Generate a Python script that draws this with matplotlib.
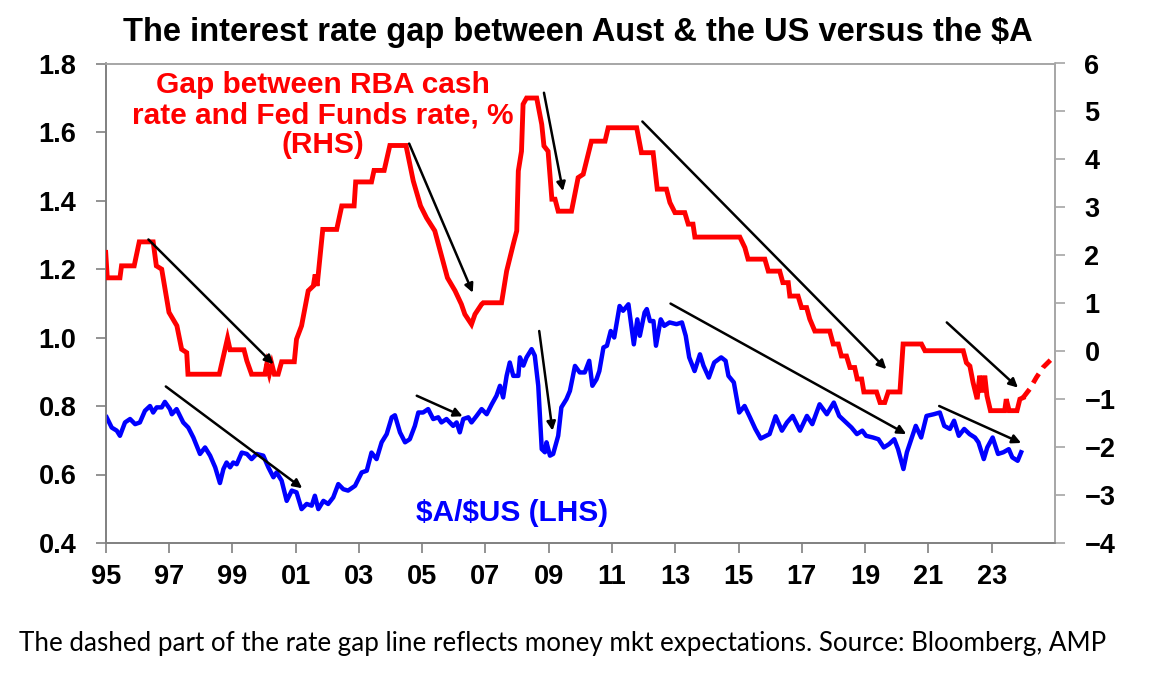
import matplotlib
matplotlib.use("Agg")
import matplotlib.pyplot as plt

# ---------------- data ----------------
aud_years = [1995.03,1995.19,1995.35,1995.45,1995.61,1995.77,1995.93,1996.08,1996.24,1996.4,1996.5,1996.61,1996.77,1996.87,
 1997.03,1997.09,1997.24,1997.45,1997.61,1997.77,1997.98,1998.14,1998.3,1998.46,1998.61,1998.72,1998.82,1998.93,
 1999.03,1999.14,1999.3,1999.46,1999.61,1999.77,1999.98,2000.14,2000.3,2000.4,2000.56,2000.72,2000.88,2001.03,
 2001.19,2001.35,2001.51,2001.61,2001.72,2001.88,2002.03,2002.19,2002.35,2002.51,2002.66,2002.88,2003.09,2003.25,
 2003.4,2003.56,2003.72,2003.88,2004.04,2004.14,2004.3,2004.46,2004.61,2004.77,2004.88,2005.03,2005.19,2005.35,
 2005.51,2005.61,2005.77,2005.98,2006.09,2006.19,2006.3,2006.46,2006.56,2006.72,2006.88,2007.04,2007.2,2007.35,
 2007.46,2007.56,2007.67,2007.77,2007.88,2008.04,2008.09,2008.2,2008.3,2008.46,2008.56,2008.67,2008.78,2008.88,
 2008.93,2009.04,2009.14,2009.3,2009.4,2009.56,2009.67,2009.83,2009.98,2010.14,2010.28,2010.38,2010.51,2010.6,
 2010.73,2010.84,2010.96,2011.07,2011.24,2011.35,2011.52,2011.69,2011.8,2011.88,2012.03,2012.1,2012.2,2012.31,
 2012.39,2012.54,2012.65,2012.82,2013.04,2013.21,2013.33,2013.44,2013.61,2013.78,2013.89,2014.06,2014.23,2014.45,
 2014.59,2014.68,2014.85,2015.02,2015.19,2015.36,2015.53,2015.7,2015.98,2016.17,2016.37,2016.53,2016.71,2016.94,
 2017.16,2017.33,2017.56,2017.79,2018.01,2018.18,2018.4,2018.57,2018.74,2018.91,2019.03,2019.25,2019.42,2019.59,
 2019.76,2019.92,2020.04,2020.21,2020.32,2020.6,2020.77,2020.94,2021.17,2021.36,2021.5,2021.68,2021.81,2021.96,
 2022.13,2022.3,2022.47,2022.58,2022.75,2022.86,2023.03,2023.2,2023.37,2023.54,2023.65,2023.82,2023.93]
aud_usd = [0.767,0.737,0.728,0.713,0.752,0.762,0.747,0.752,0.786,0.800,0.781,0.796,0.796,0.812,
 0.791,0.776,0.791,0.752,0.737,0.708,0.660,0.679,0.655,0.621,0.575,0.616,0.635,0.621,
 0.635,0.630,0.664,0.660,0.645,0.660,0.655,0.621,0.592,0.606,0.582,0.523,0.553,0.548,
 0.499,0.514,0.509,0.538,0.499,0.523,0.514,0.533,0.572,0.557,0.553,0.567,0.606,0.611,
 0.664,0.645,0.694,0.718,0.767,0.773,0.723,0.694,0.703,0.742,0.781,0.781,0.791,0.762,
 0.767,0.752,0.762,0.742,0.752,0.723,0.762,0.767,0.752,0.771,0.791,0.776,0.805,0.830,
 0.859,0.825,0.888,0.927,0.888,0.888,0.942,0.918,0.942,0.966,0.947,0.859,0.674,0.665,
 0.694,0.655,0.660,0.713,0.796,0.820,0.844,0.917,0.898,0.898,0.932,0.859,0.878,0.902,
 0.971,0.976,1.019,1.000,1.092,1.078,1.097,0.980,1.053,1.005,1.073,1.083,1.048,1.048,
 0.976,1.053,1.034,1.044,1.039,1.044,1.005,0.942,0.902,0.951,0.918,0.883,0.927,0.942,
 0.932,0.888,0.869,0.781,0.800,0.767,0.733,0.705,0.718,0.770,0.728,0.752,0.771,0.728,
 0.771,0.747,0.805,0.776,0.810,0.771,0.752,0.737,0.718,0.728,0.713,0.708,0.703,0.679,
 0.689,0.703,0.674,0.616,0.665,0.742,0.708,0.771,0.776,0.781,0.742,0.733,0.757,0.713,
 0.733,0.718,0.708,0.694,0.645,0.679,0.708,0.660,0.665,0.674,0.650,0.640,0.665]

gap_years = [1995.0,1995.05,1995.45,1995.5,1995.9,1996.06,1996.5,1996.6,1996.77,1997.0,1997.25,1997.4,1997.56,1997.6,
 1998.59,1998.85,1998.93,1999.37,1999.46,1999.61,2000.03,2000.09,2000.17,2000.25,2000.33,2000.45,2000.56,2000.96,
 2001.03,2001.19,2001.4,2001.56,2001.62,2001.68,2001.86,2002.3,2002.46,2002.85,2002.9,2003.4,2003.48,2003.8,
 2003.98,2004.49,2004.72,2004.95,2005.14,2005.4,2005.6,2005.8,2006.04,2006.24,2006.35,2006.56,2006.67,2006.88,
 2006.93,2007.51,2007.67,2007.88,2007.99,2008.04,2008.14,2008.19,2008.3,2008.62,2008.78,2008.85,2008.98,2009.1,
 2009.2,2009.3,2009.72,2009.93,2010.09,2010.35,2010.78,2010.88,2011.78,2011.93,2012.3,2012.43,2012.72,2012.83,
 2012.99,2013.3,2013.41,2013.56,2013.62,2015.04,2015.2,2015.3,2015.83,2015.94,2016.3,2016.4,2016.57,2016.62,
 2016.88,2016.99,2017.15,2017.25,2017.41,2017.88,2017.99,2018.15,2018.25,2018.41,2018.52,2018.67,2018.75,2018.89,
 2018.96,2019.36,2019.47,2019.62,2019.73,2020.1,2020.2,2020.78,2020.89,2022.1,2022.2,2022.31,2022.41,2022.54,
 2022.62,2022.71,2022.78,2022.85,2022.96,2023.41,2023.46,2023.55,2023.8,2023.89,2023.99]
rate_gap = [2.06,1.53,1.53,1.78,1.78,2.28,2.28,1.78,1.71,0.81,0.53,0.04,-0.03,-0.48,
 -0.48,0.27,0.03,0.03,-0.20,-0.48,-0.48,-0.27,-0.48,-0.27,-0.48,-0.48,-0.22,-0.22,
 0.25,0.53,1.26,1.36,1.60,1.36,2.54,2.54,3.03,3.03,3.53,3.53,3.77,3.77,
 4.29,4.29,3.55,3.03,2.78,2.51,2.02,1.53,1.26,0.98,0.77,0.56,0.77,0.98,
 1.01,1.01,1.67,2.23,2.51,3.76,4.17,5.15,5.28,5.28,4.73,4.28,4.17,3.17,
 3.17,2.92,2.92,3.62,3.69,4.38,4.38,4.66,4.66,4.14,4.14,3.38,3.38,3.10,
 2.89,2.89,2.65,2.65,2.38,2.38,2.16,1.92,1.92,1.67,1.67,1.43,1.43,1.15,
 1.15,0.91,0.91,0.67,0.42,0.42,0.15,0.15,-0.10,-0.10,-0.34,-0.34,-0.58,-0.58,
 -0.85,-0.85,-1.07,-1.07,-0.85,-0.85,0.15,0.15,0.01,0.01,-0.24,-0.31,-0.65,-1.00,
 -0.51,-0.86,-0.51,-0.93,-1.24,-1.24,-1.00,-1.24,-1.24,-1.00,-0.97]

exp_years = [2023.99, 2024.2, 2024.41, 2024.62, 2024.94]
exp_gap = [-0.97, -0.79, -0.55, -0.34, -0.13]

year_ticks = list(range(1995, 2024, 2))
year_labels = [f"{y % 100:02d}" for y in year_ticks]
left_ticks = [0.4, 0.6, 0.8, 1.0, 1.2, 1.4, 1.6, 1.8]
right_ticks = list(range(-4, 7))

# arrows: (x0, y0, x1, y1)
gap_arrows = [(1996.35, 2.33, 2000.3, -0.27), (2004.59, 4.33, 2006.6, 1.22),
              (2008.85, 5.39, 2009.45, 3.34), (2011.96, 4.79, 2019.67, -0.375),
              (2021.58, 0.60, 2023.83, -0.76)]
aud_arrows = [(1996.9, 0.857, 2001.21, 0.560), (2004.83, 0.830, 2006.28, 0.770),
              (2008.7, 1.019, 2009.12, 0.728), (2012.85, 1.099, 2020.3, 0.718),
              (2021.34, 0.800, 2023.93, 0.692)]

# ---------------- plot ----------------
plt.rcParams['font.family'] = ['Liberation Sans', 'DejaVu Sans']
fig = plt.figure(figsize=(11.56, 6.74), dpi=100)
ax = fig.add_axes([105.7/1156, 1-543/674, (1055-105.7)/1156, (543-63.5)/674])
ax2 = ax.twinx()

ax.plot(aud_years, aud_usd, color='#0000ff', lw=3.2, solid_joinstyle='round', zorder=3)
ax2.plot(gap_years, rate_gap, color='#ff0000', lw=3.5, solid_joinstyle='miter', zorder=3)
ax2.plot(exp_years, exp_gap, color='#ff0000', lw=3.5, ls=(0, (2.2, 1.5)), zorder=3)

ax.set_xlim(1995, 2025.0)
ax.set_ylim(0.4, 1.8)
ax2.set_ylim(-4, 6)
ax.set_yticks(left_ticks)
ax.set_yticklabels([f"{v:.1f}" for v in left_ticks])
ax2.set_yticks(right_ticks)
ax.set_xticks(year_ticks)
ax.set_xticklabels(year_labels)

dark = '#808080'
light = '#a6a6a6'
for a in (ax, ax2):
    for s in a.spines.values():
        s.set_linewidth(1.2)
    a.spines['left'].set_color(dark)
    a.spines['bottom'].set_color(dark)
    a.spines['top'].set_color(light)
    a.spines['right'].set_color(light)
    for lab in a.get_xticklabels() + a.get_yticklabels():
        lab.set_fontweight('bold')
ax.tick_params(axis='both', colors=dark, width=1.2, length=7.2, direction='out',
               labelcolor='black', labelsize=19.5)
ax.tick_params(axis='x', pad=8)
ax.tick_params(axis='y', pad=14)
ax2.tick_params(axis='y', colors=light, width=1.2, length=7.2, direction='out',
                labelcolor='black', labelsize=19.5, pad=14)

for (x0, y0, x1, y1) in gap_arrows:
    ax2.annotate('', xy=(x1, y1), xytext=(x0, y0),
                 arrowprops=dict(arrowstyle='-|>', color='black', lw=1.8,
                                 mutation_scale=13, shrinkA=0, shrinkB=0), zorder=4)
for (x0, y0, x1, y1) in aud_arrows:
    ax2.annotate('', xy=(x1, y1), xytext=(x0, y0), xycoords=ax.transData, textcoords=ax.transData,
                 arrowprops=dict(arrowstyle='-|>', color='black', lw=1.8,
                                 mutation_scale=13, shrinkA=0, shrinkB=0), zorder=4)

fig.text(578/1156, 1-33/674, r"The interest rate gap between Aust & the US versus the \$A",
         ha='center', va='center', fontsize=23.5, fontweight='bold')
fig.text(323/1156, 1-115/674, "Gap between RBA cash\nrate and Fed Funds rate, %\n(RHS)",
         ha='center', va='center', fontsize=21.5, fontweight='bold', color='#ff0000', linespacing=1.08)
fig.text(512/1156, 1-513/674, r"\$A/\$US (LHS)", ha='center', va='center',
         fontsize=21.5, fontweight='bold', color='#0000ff')
fig.text(563/1156, 1-643/674,
         "The dashed part of the rate gap line reflects money mkt expectations. Source: Bloomberg, AMP",
         ha='center', va='center', fontsize=18.7, family=['Lato', 'DejaVu Sans'])

fig.savefig('out.png', dpi=100)
